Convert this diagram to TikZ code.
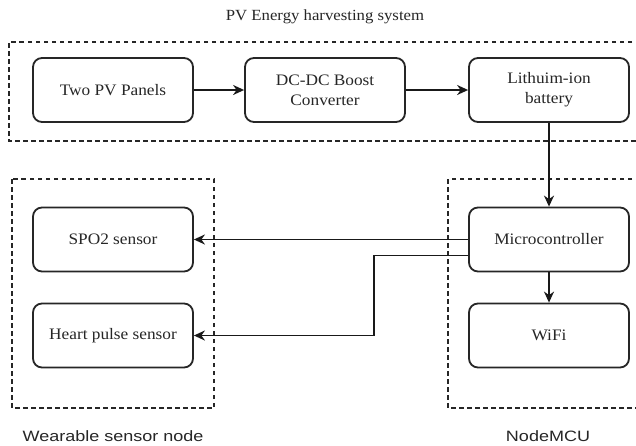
\documentclass[tikz,border=0pt]{standalone}
\usepackage{fontspec}
\setmainfont{Liberation Serif}[FakeStretch=1.08]
\newfontfamily\labelfont{Liberation Sans}[FakeStretch=1.2]
\usetikzlibrary{arrows.meta}
\begin{document}
\begin{tikzpicture}[x=1pt,y=-1pt,
  blockbox/.style={draw=black!85, line width=1.8pt, rounded corners=9pt,
    minimum width=160pt, minimum height=64pt, inner sep=0pt, align=center,
    text=black!85, font=\fontsize{16}{20}\selectfont},
  groupbox/.style={draw=black!85, line width=1.5pt, dash pattern=on 4.5pt off 3.5pt},
  conn/.style={draw=black!90, line width=1.7pt, -{Stealth[length=11pt,width=10pt,inset=3.5pt]}},
  titletext/.style={text=black!85, font=\fontsize{15.5}{18}\selectfont},
  grouplabel/.style={text=black!85, font=\labelfont\fontsize{15}{18}\selectfont}
]
\clip (0,0) rectangle (636,445);
\fill[white] (0,0) rectangle (636,445);

% group frames
\draw[groupbox] (640,42) -- (9,42) -- (9,141) -- (640,141);
\draw[groupbox] (12,179) rectangle (214,408);
\draw[groupbox] (640,179) -- (448,179) -- (448,408) -- (640,408);

% labels
\node[titletext] (title) at (325,17) {PV Energy harvesting system};
\node[grouplabel] (wlabel) at (113,436) {Wearable sensor node};
\node[grouplabel] (nlabel) at (548,436) {NodeMCU};

% blocks
\node[blockbox] (pv) at (113,90) {Two PV Panels};
\node[blockbox] (dcdc) at (325,90) {DC-DC Boost\\Converter};
\node[blockbox] (batt) at (549,90) {Lithuim-ion\\battery};
\node[blockbox] (spo2) at (113,239.5) {SPO2 sensor};
\node[blockbox] (heart) at (113,335.5) {Heart pulse sensor};
\node[blockbox] (mcu) at (549,239.5) {Microcontroller};
\node[blockbox] (wifi) at (549,335.5) {WiFi};

% connectors
\draw[conn] (pv) -- (dcdc);
\draw[conn] (dcdc) -- (batt);
\draw[conn] (batt) -- (mcu);
\draw[conn] (mcu) -- (wifi);
\draw[conn] (mcu.west) -- (spo2.east);
\draw[conn] ([yshift=-16pt]mcu.west) -| ([xshift=180pt]heart.east) -- (heart.east);
\end{tikzpicture}
\end{document}
